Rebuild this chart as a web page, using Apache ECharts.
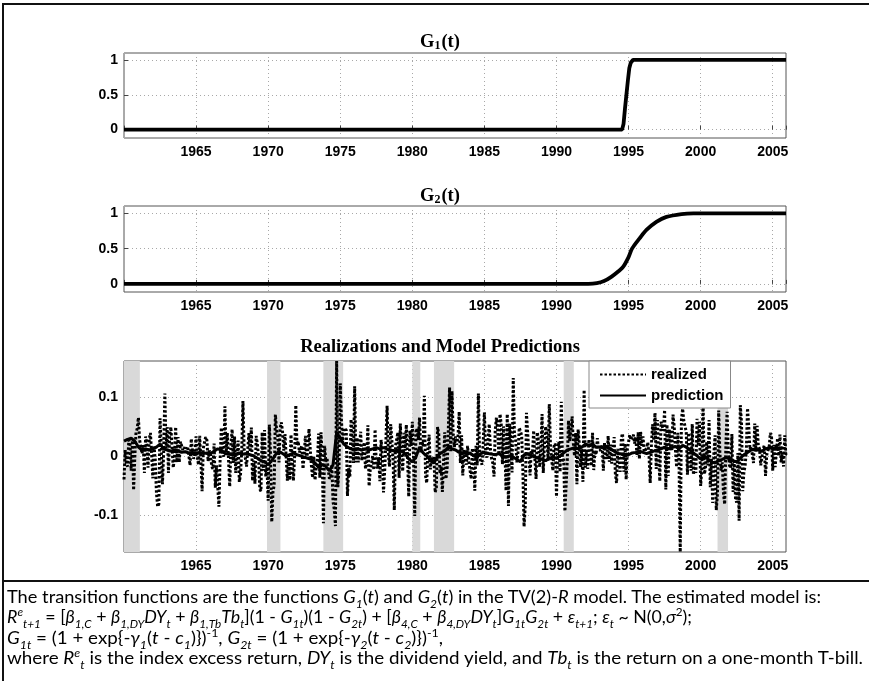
<!DOCTYPE html>
<html>
<head>
<meta charset="utf-8">
<script src="https://cdn.jsdelivr.net/npm/echarts@6/dist/echarts.min.js"></script>
<style>
  html, body { margin: 0; padding: 0; background: #fff; }
  #wrap { position: relative; width: 869px; height: 681px; overflow: hidden; }
  #chart { position: absolute; left: 0; top: 0; width: 869px; height: 681px; }
  .rule { position: absolute; background: #111; }
  #caption { position: absolute; left: 7px; top: 586px; font-family: Lato, "Liberation Sans", sans-serif; font-size: 18px; color: #000; }
  #caption div { white-space: nowrap; height: 20.4px; line-height: 20.4px; transform-origin: 0 50%; width: max-content; }
  #caption sub, #caption sup { font-size: 66%; line-height: 0; }
</style>
</head>
<body>
<div id="wrap">
  <div id="chart"></div>
  <div class="rule" style="left:2px;top:3px;width:867px;height:2px"></div>
  <div class="rule" style="left:2px;top:3px;width:2px;height:678px"></div>
  <div class="rule" style="left:2px;top:580px;width:867px;height:2px"></div>
  <div id="caption">
    <div data-w="814">The transition functions are the functions <i>G<sub>1</sub></i>(<i>t</i>) and <i>G<sub>2</sub></i>(<i>t</i>) in the TV(2)-<i>R</i> model. The estimated model is:</div>
    <div data-w="685"><i>R<sup>e</sup><sub>t+1</sub></i> = [<i>β<sub>1,C</sub></i> + <i>β<sub>1,DY</sub>DY<sub>t</sub></i> + <i>β<sub>1,Tb</sub>Tb<sub>t</sub></i>](1 - <i>G<sub>1t</sub></i>)(1 - <i>G<sub>2t</sub></i>) + [<i>β<sub>4,C</sub></i> + <i>β<sub>4,DY</sub>DY<sub>t</sub></i>]<i>G<sub>1t</sub>G<sub>2t</sub></i> + <i>ε<sub>t+1</sub></i>; <i>ε<sub>t</sub></i> ~ N(0,<i>σ</i><sup>2</sup>);</div>
    <div data-w="436"><i>G<sub>1t</sub></i> = (1 + exp{-<i>γ<sub>1</sub></i>(<i>t</i> - <i>c<sub>1</sub></i>)})<sup>-1</sup>, <i>G<sub>2t</sub></i> = (1 + exp{-<i>γ<sub>2</sub></i>(<i>t</i> - <i>c<sub>2</sub></i>)})<sup>-1</sup>,</div>
    <div data-w="856">where <i>R<sup>e</sup><sub>t</sub></i> is the index excess return, <i>DY<sub>t</sub></i> is the dividend yield, and <i>Tb<sub>t</sub></i> is the return on a one-month T-bill.</div>
  </div>
</div>
<script>
// transition function G1(t)
const g1Years  = [1960, 1994.55, 1994.65, 1994.75, 1994.85, 1994.95, 1995.05, 1995.15, 1995.3, 2005.92];
const g1Values = [0,    0,       0.08,    0.3,     0.5,     0.7,     0.88,    0.96,    1,      1];

// transition function G2(t)
const g2Years  = [1960, 1992.2, 1992.8, 1993.3, 1993.8, 1994.3, 1994.62, 1995.0, 1995.24, 1995.78, 1996.24, 1996.93, 1997.63, 1998.67, 1999.5, 2005.92];
const g2Values = [0,    0,      0.01,   0.04,   0.1,    0.18,   0.24,    0.38,   0.5,     0.65,    0.765,   0.88,    0.95,    0.99,    1,      1];

// realized excess returns, monthly from Jan 1960
const realizedStart = 1960;
const realized = [
  -0.04, 0.01, -0.014, -0.018, 0.027, 0.02, -0.025, 0.026, -0.058, -0.002, 0.04, 0.046,
  0.065, 0.027, 0.026, 0.004, 0.019, -0.029, 0.033, 0.02, -0.02, 0.028, 0.039, 0.003,
  -0.038, 0.016, -0.006, -0.062, -0.086, -0.082, 0.064, 0.015, -0.048, 0.004, 0.106, 0.013,
  0.049, -0.029, 0.035, 0.049, 0.014, -0.02, -0.003, 0.049, -0.011, 0.032, -0.011, 0.024,
  0.027, 0.01, 0.015, 0.006, 0.011, 0.016, 0.018, -0.016, 0.029, 0.008, -0.005, 0.004,
  0.033, -0.001, -0.015, 0.034, -0.008, -0.06, 0.013, 0.023, 0.032, 0.027, -0.009, 0.009,
  0.005, -0.018, -0.022, 0.021, -0.054, -0.016, -0.013, -0.086, -0.007, 0.048, 0.003, -0.001,
  0.084, 0.002, 0.039, 0.042, -0.052, 0.018, 0.045, -0.012, 0.033, -0.029, 0.001, 0.026,
  -0.044, -0.031, 0.009, 0.093, 0.011, 0.009, -0.018, 0.011, 0.039, 0.007, 0.048, -0.042,
  -0.008, -0.047, 0.034, 0.021, -0.002, -0.056, -0.06, 0.04, -0.025, 0.044, -0.035, -0.019,
  -0.076, 0.053, 0.001, -0.112, -0.061, -0.05, 0.07, 0.044, 0.033, -0.011, 0.047, 0.057,
  0.04, 0.009, 0.037, 0.036, -0.042, 0.001, -0.041, 0.036, -0.007, -0.042, -0.003, 0.086,
  0.018, 0.025, 0.006, 0.004, 0.017, -0.022, 0.002, 0.034, -0.005, 0.009, 0.046, 0.012,
  -0.017, -0.037, -0.001, -0.041, -0.019, -0.007, 0.038, -0.037, 0.04, -0.001, -0.114, 0.017,
  -0.01, -0.004, -0.023, -0.039, -0.034, -0.015, -0.078, -0.09, -0.119, 0.161, -0.053, -0.02,
  0.123, 0.06, 0.022, 0.047, 0.044, 0.044, -0.068, -0.021, -0.035, 0.062, 0.025, -0.012,
  0.118, -0.011, 0.031, -0.011, -0.014, 0.041, -0.008, -0.005, 0.023, -0.022, -0.008, 0.052,
  -0.051, -0.022, -0.014, 0.0, -0.024, 0.045, -0.016, -0.021, -0.002, -0.043, 0.027, 0.003,
  -0.062, -0.025, 0.025, 0.085, 0.004, -0.018, 0.054, 0.026, -0.007, -0.092, 0.017, 0.015,
  0.04, -0.037, 0.055, 0.002, -0.026, 0.039, 0.009, 0.053, 0.0, -0.069, 0.043, 0.017,
  0.058, -0.004, -0.102, 0.041, 0.047, 0.027, 0.065, 0.006, 0.025, 0.016, 0.102, -0.034,
  -0.046, 0.013, 0.036, -0.023, -0.002, -0.01, -0.002, -0.062, -0.054, 0.049, 0.037, -0.03,
  -0.018, -0.061, -0.01, 0.04, -0.039, -0.02, -0.023, 0.116, 0.008, 0.11, 0.036, 0.015,
  0.033, 0.019, 0.033, 0.075, -0.012, 0.035, -0.033, 0.011, 0.01, -0.015, 0.017, -0.009,
  -0.009, -0.039, 0.013, 0.005, -0.059, 0.017, -0.016, 0.106, -0.003, 0.0, -0.015, 0.022,
  0.074, 0.009, -0.003, -0.005, 0.054, 0.012, -0.005, -0.012, -0.035, 0.043, 0.065, 0.045,
  0.002, 0.071, 0.053, -0.014, 0.05, 0.014, -0.059, 0.071, -0.085, 0.055, 0.021, -0.028,
  0.132, 0.037, 0.026, -0.011, 0.006, 0.048, 0.048, 0.035, -0.024, -0.12, -0.085, 0.073,
  0.04, 0.042, -0.033, 0.009, 0.003, 0.043, -0.005, -0.039, 0.04, 0.026, -0.019, 0.015,
  0.071, -0.029, 0.021, 0.05, 0.035, -0.008, 0.088, 0.016, -0.007, -0.025, 0.017, 0.021,
  -0.069, 0.009, 0.024, -0.027, 0.092, -0.009, -0.005, -0.094, -0.051, -0.007, 0.06, 0.025,
  0.042, 0.067, 0.022, 0.0, 0.039, -0.048, 0.045, 0.02, -0.019, 0.012, -0.044, 0.112,
  -0.02, 0.01, -0.022, 0.028, 0.001, -0.017, 0.039, -0.024, 0.009, 0.002, 0.03, 0.01,
  0.007, 0.01, 0.019, -0.025, 0.023, 0.001, -0.005, 0.034, -0.01, 0.019, -0.013, 0.01,
  0.032, -0.03, -0.046, 0.012, 0.012, -0.027, 0.031, 0.038, -0.027, 0.021, -0.04, 0.012,
  0.024, 0.036, 0.027, 0.028, 0.036, 0.021, 0.032, 0.0, 0.04, -0.005, 0.041, 0.017,
  0.033, 0.007, 0.008, 0.013, 0.023, 0.002, -0.046, 0.019, 0.054, 0.026, 0.073, -0.022,
  0.061, 0.006, -0.043, 0.058, 0.059, 0.043, 0.078, -0.057, 0.053, -0.034, 0.045, 0.016,
  0.01, 0.07, 0.05, 0.009, -0.019, 0.039, -0.012, -0.163, 0.062, 0.08, 0.059, 0.056,
  0.041, -0.032, 0.039, 0.038, -0.025, 0.054, -0.032, -0.006, -0.029, 0.063, 0.019, 0.058,
  -0.051, -0.02, 0.097, -0.031, -0.022, 0.024, -0.016, 0.061, -0.053, -0.005, -0.08, 0.004,
  0.035, -0.092, -0.064, 0.077, 0.005, -0.025, -0.011, -0.064, -0.082, 0.018, 0.075, 0.008,
  -0.016, -0.021, 0.037, -0.061, -0.009, -0.072, -0.079, 0.005, -0.11, 0.086, 0.057, -0.06,
  -0.027, -0.017, 0.008, 0.081, 0.051, 0.011, 0.016, 0.018, -0.012, 0.055, 0.007, 0.051,
  0.017, 0.012, -0.016, -0.017, 0.012, 0.018, -0.034, 0.002, 0.009, 0.014, 0.039, 0.032,
  -0.025, 0.019, -0.019, -0.02, 0.03, 0.0, 0.036, -0.011, 0.007, -0.018, 0.035, -0.001
];

// model prediction, quarterly from 1960Q1
const predictedStart = 1960;
const predicted = [
  0.025, 0.028, 0.03, 0.025,   0.015, 0.01, 0.012, 0.01,    0.012, 0.015, 0.02, 0.012,
  0.01, 0.008, 0.01, 0.008,    0.006, 0.007, 0.005, 0.006,  0.005, 0.006, 0.004, 0.005,
  0.004, 0.008, 0.012, 0.01,   0.004, 0.003, 0.002, 0.003,  0.005, 0.003, 0.004, 0.002,
  0.0, -0.004, -0.008, -0.01,  -0.015, -0.008, 0.002, 0.008, 0.004, 0.0, 0.002, 0.005,
  0.002, 0.0, -0.002, -0.004,  -0.006, -0.012, -0.02, -0.015, -0.018, -0.025, -0.015, 0.04,
  0.03, 0.02, 0.015, 0.012,    0.01, 0.012, 0.01, 0.012,    0.01, 0.012, 0.014, 0.012,
  0.014, 0.012, 0.01, 0.008,   0.01, 0.008, 0.004, -0.005,  -0.01, -0.002, 0.015, 0.005,
  0.0, -0.008, -0.012, 0.0,    0.005, 0.008, 0.015, 0.012,  0.01, 0.006, 0.005, 0.004,
  0.005, 0.0, -0.002, 0.004,   0.006, 0.004, 0.003, 0.002,  0.004, 0.0, -0.002, 0.0,
  -0.002, -0.006, -0.01, 0.002, 0.003, 0.001, -0.002, -0.004, -0.006, -0.008, -0.004, -0.002,
  -0.004, 0.0, 0.005, 0.01,    0.012, 0.014, 0.012, 0.015,  0.02, 0.018, 0.02, 0.015,
  0.015, 0.014, 0.015, 0.012,  0.008, 0.004, 0.003, 0.0,    0.002, 0.005, 0.006, 0.008,
  0.006, 0.004, 0.006, 0.008,  0.01, 0.012, 0.015, 0.012,   0.014, 0.016, 0.012, 0.018,
  0.015, 0.01, 0.005, 0.0,     -0.005, 0.0, -0.005, -0.01,  -0.012, -0.008, -0.006, -0.003,
  -0.005, -0.008, -0.01, -0.004, 0.002, 0.006, 0.01, 0.012, 0.01, 0.008, 0.012, 0.014,
  0.012, 0.015, 0.012, 0.014
];

// NBER recession bands (start, end)
const recessionStart = [1960.0, 1969.92, 1973.83, 1980.0, 1981.5, 1990.5, 2001.17];
const recessionEnd   = [1961.1, 1970.85, 1975.2, 1980.55, 1982.9, 1991.2, 2001.9];

const realizedData = realized.map((v, i) => [realizedStart + i / 12, v]);
const predictedData = predicted.map((v, i) => [predictedStart + i / 4, v]);
const g1Data = g1Years.map((y, i) => [y, g1Values[i]]);
const g2Data = g2Years.map((y, i) => [y, g2Values[i]]);

const tickFont = { fontFamily: 'Liberation Sans', fontWeight: 'bold', fontSize: 14, color: '#000' };
const gridLine = { show: true, lineStyle: { color: '#a8a8a8', type: [1, 3], width: 1 } };

function xAxis(gi) {
  return {
    type: 'value', gridIndex: gi, min: 1960, max: 2005.92, interval: 5,
    axisLine: { show: false },
    axisTick: { show: true, inside: true, length: 4, lineStyle: { color: '#444' } },
    axisLabel: Object.assign({ margin: 7, formatter: v => (v % 5 === 0 && v > 1960) ? String(v) : '' }, tickFont),
    splitLine: gridLine
  };
}
function yAxis(gi, min, max, ticks) {
  return {
    type: 'value', gridIndex: gi, min: min, max: max,
    axisLine: { show: false },
    axisTick: { show: true, inside: true, length: 4, customValues: ticks, lineStyle: { color: '#444' } },
    axisLabel: Object.assign({ margin: 6, customValues: ticks }, tickFont),
    splitLine: gridLine
  };
}
const frame = { show: true, borderColor: '#555', borderWidth: 1, backgroundColor: 'transparent' };
const titleFont = { fontFamily: 'Liberation Serif', fontWeight: 'bold', fontSize: 18.5, fill: '#000' };
const subFont = Object.assign({}, titleFont, { fontSize: 12, padding: [7, 1, 0, 0] });

const chart = echarts.init(document.getElementById('chart'), null, { renderer: 'canvas' });
chart.setOption({
  animation: false,
  backgroundColor: '#fff',
  grid: [
    Object.assign({ left: 124, top: 53, width: 662, height: 85 }, frame),
    Object.assign({ left: 124, top: 206, width: 662, height: 86 }, frame),
    Object.assign({ left: 124, top: 361, width: 662, height: 191 }, frame)
  ],
  xAxis: [xAxis(0), xAxis(1), xAxis(2)],
  yAxis: [
    yAxis(0, -0.12, 1.1, [0, 0.5, 1]),
    yAxis(1, -0.115, 1.105, [0, 0.5, 1]),
    yAxis(2, -0.163, 0.161, [-0.1, 0, 0.1])
  ],
  graphic: [
    { type: 'text', x: 440, y: 42, style: Object.assign({ text: '{a|G}{s|1}{a|(t)}', align: 'center', verticalAlign: 'middle',
      rich: { a: titleFont, s: subFont } }, titleFont) },
    { type: 'text', x: 440, y: 196, style: Object.assign({ text: '{a|G}{s|2}{a|(t)}', align: 'center', verticalAlign: 'middle',
      rich: { a: titleFont, s: subFont } }, titleFont) },
    { type: 'text', x: 440, y: 347, style: Object.assign({ text: 'Realizations and Model Predictions', align: 'center', verticalAlign: 'middle' }, titleFont) }
  ],
  legend: {
    data: ['realized', 'prediction'],
    orient: 'vertical', left: 589, top: 361,
    padding: [6, 7, 5, 10], itemGap: 6, itemWidth: 46, itemHeight: 16,
    backgroundColor: '#fff', borderColor: '#888', borderWidth: 1, borderRadius: 0,
    itemStyle: { color: 'rgba(0,0,0,0)', borderWidth: 0, opacity: 0 },
    textStyle: { fontFamily: 'Liberation Sans', fontWeight: 'bold', fontSize: 15, color: '#000' }
  },
  series: [
    { type: 'line', xAxisIndex: 0, yAxisIndex: 0, data: g1Data, symbol: 'none', lineStyle: { color: '#000', width: 3.8 } },
    { type: 'line', xAxisIndex: 1, yAxisIndex: 1, data: g2Data, symbol: 'none', smooth: 0.3, lineStyle: { color: '#000', width: 3.8 } },
    {
      type: 'line', xAxisIndex: 2, yAxisIndex: 2, data: [], silent: true,
      markArea: {
        silent: true,
        itemStyle: { color: '#d9d9d9' },
        data: recessionStart.map((s, i) => [{ xAxis: s }, { xAxis: recessionEnd[i] }])
      }
    },
    { name: 'realized', type: 'line', xAxisIndex: 2, yAxisIndex: 2, data: realizedData, symbol: 'none',
      itemStyle: { color: '#000' }, lineStyle: { color: '#000', width: 3, type: [2.5, 2] } },
    { name: 'prediction', type: 'line', xAxisIndex: 2, yAxisIndex: 2, data: predictedData, symbol: 'none',
      itemStyle: { color: '#000' }, lineStyle: { color: '#000', width: 3 } }
  ]
});

// fit each caption line to the width it has in the reference
document.querySelectorAll('#caption div').forEach(el => {
  const w = el.getBoundingClientRect().width;
  el.style.transform = 'scaleX(' + (Number(el.dataset.w) / w) + ')';
});
</script>
</body>
</html>
